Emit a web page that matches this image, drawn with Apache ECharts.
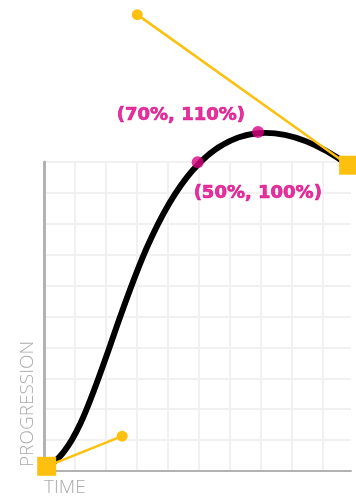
<!DOCTYPE html>
<html>
<head>
<meta charset="utf-8">
<script src="https://cdn.jsdelivr.net/npm/echarts@6/dist/echarts.min.js"></script>
<style>
    html, body { margin: 0; padding: 0; background: #fff; }
    #bezier_chart { width: 356px; height: 499px; }
</style>
</head>
<body>
<div id="bezier_chart"></div>
<script>

// Chart data
// ------------------------------

// Cubic bezier control points [time, progression]
var startPoint = [0, 0];
var control1 = [0.25, 0.1];
var control2 = [0.3, 1.5];
var endPoint = [1, 1];

// Highlighted points on the curve
var markedPoints = [[0.5, 1.01], [0.7, 1.11]];
var markedLabels = ['(50%, 100%)', '(70%, 110%)'];

// Axis titles
var timeTitle = 'TIME';
var progressionTitle = 'PROGRESSION';


// Setup module
// ------------------------------

var EchartsBezierEasing = function() {

    var _bezierEasingExample = function() {
        if (typeof echarts == 'undefined') {
            console.warn('Warning - echarts.min.js is not loaded.');
            return;
        }

        // Define element
        var bezier_element = document.getElementById('bezier_chart');

        if (bezier_element) {

            // Initialize chart
            var bezier_chart = echarts.init(bezier_element, null, { renderer: 'canvas' });

            var yellow = '#FDC00F';
            var pink = '#DC0084';
            var gray = '#b2b2b2';

            // Handle line: square at the end point, dot at the control point
            var handle = function(anchor, control) {
                return [
                    { value: anchor, symbol: 'rect', symbolSize: 19 },
                    { value: control, symbol: 'circle', symbolSize: 11 }
                ];
            };

            var handleSeries = function(anchor, control) {
                return {
                    type: 'line',
                    xAxisIndex: 1,
                    yAxisIndex: 1,
                    clip: false,
                    z: 4,
                    showSymbol: true,
                    silent: true,
                    animation: false,
                    lineStyle: { color: yellow, width: 2.5 },
                    itemStyle: { color: yellow },
                    data: handle(anchor, control)
                };
            };

            bezier_chart.setOption({

                animation: false,

                textStyle: {
                    fontFamily: 'DejaVu Sans'
                },

                // Setup grid (paper ends just before its last column line)
                grid: {
                    left: 44,
                    top: 162,
                    width: 307,
                    height: 309
                },

                // Horizontal axes: 0 draws the paper grid, 1 holds the data
                xAxis: [{
                    type: 'value',
                    min: 0,
                    max: 9.9,
                    interval: 1,
                    axisLine: { show: true, onZero: false, lineStyle: { color: gray, width: 2 } },
                    axisTick: { show: false },
                    axisLabel: { show: false },
                    splitLine: {
                        show: true,
                        showMaxLine: false,
                        lineStyle: { color: '#f1f1f1', width: 2 }
                    }
                }, {
                    type: 'value',
                    min: -0.0089,
                    max: 1.008,
                    show: false
                }],

                // Vertical axes
                yAxis: [{
                    type: 'value',
                    min: 0,
                    max: 10,
                    interval: 1,
                    axisLine: { show: true, onZero: false, lineStyle: { color: gray, width: 3 } },
                    axisTick: { show: false },
                    axisLabel: { show: false },
                    splitLine: { show: true, lineStyle: { color: '#f1f1f1', width: 2 } }
                }, {
                    type: 'value',
                    min: -0.0156,
                    max: 1.0106,
                    show: false
                }],

                // Axis titles
                graphic: [{
                    type: 'text',
                    x: 44,
                    y: 478,
                    style: {
                        text: timeTitle,
                        fill: '#aaaaaa',
                        font: '300 19px "Open Sans"',
                        align: 'left',
                        verticalAlign: 'top'
                    }
                }, {
                    type: 'text',
                    x: 37,
                    y: 467,
                    rotation: Math.PI / 2,
                    style: {
                        text: progressionTitle,
                        fill: '#aaaaaa',
                        font: '300 19px "Open Sans"',
                        align: 'left',
                        verticalAlign: 'bottom'
                    }
                }],

                // Add series
                series: [

                    // Easing curve
                    {
                        type: 'custom',
                        xAxisIndex: 1,
                        yAxisIndex: 1,
                        clip: false,
                        z: 3,
                        silent: true,
                        data: [0],
                        renderItem: function(params, api) {
                            var p0 = api.coord(startPoint);
                            var p1 = api.coord(control1);
                            var p2 = api.coord(control2);
                            var p3 = api.coord(endPoint);
                            return {
                                type: 'bezierCurve',
                                shape: {
                                    x1: p0[0], y1: p0[1],
                                    cpx1: p1[0], cpy1: p1[1],
                                    cpx2: p2[0], cpy2: p2[1],
                                    x2: p3[0], y2: p3[1]
                                },
                                style: { stroke: '#000', lineWidth: 6, fill: null }
                            };
                        }
                    },

                    // Control handles
                    handleSeries(startPoint, control1),
                    handleSeries(endPoint, control2),

                    // Marked points
                    {
                        type: 'scatter',
                        xAxisIndex: 1,
                        yAxisIndex: 1,
                        clip: false,
                        z: 5,
                        silent: true,
                        symbolSize: 12,
                        itemStyle: { color: pink },
                        label: {
                            show: true,
                            color: pink,
                            fontFamily: 'DejaVu Sans',
                            fontWeight: 'bold',
                            fontSize: 18,
                            textBorderColor: pink,
                            textBorderWidth: 0.7
                        },
                        data: [{
                            value: markedPoints[0],
                            label: {
                                formatter: markedLabels[0],
                                position: 'bottom',
                                align: 'left',
                                distance: 5,
                                offset: [-4, 11]
                            }
                        }, {
                            value: markedPoints[1],
                            label: {
                                formatter: markedLabels[1],
                                position: 'left',
                                distance: 7,
                                offset: [0, -17]
                            }
                        }]
                    }
                ]
            });
        }
    };

    return {
        init: function() {
            _bezierEasingExample();
        }
    }
}();


// Initialize module
// ------------------------------

document.addEventListener('DOMContentLoaded', function() {
    EchartsBezierEasing.init();
});
</script>
</body>
</html>
